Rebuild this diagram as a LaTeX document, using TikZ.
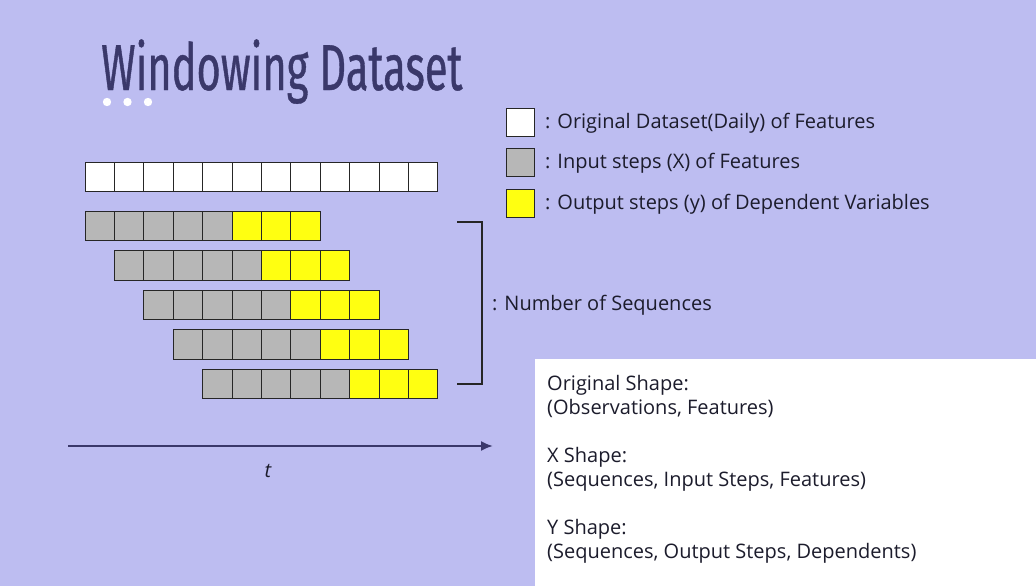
\documentclass[tikz,border=0pt]{standalone}
\usepackage{fontspec}
\usetikzlibrary{arrows.meta}
\setmainfont{Open Sans}
\newfontfamily\titlefont[FakeStretch=0.64, FakeBold=0.6]{Fira Sans}
\definecolor{slidebg}{RGB}{189,189,241}
\definecolor{navy}{RGB}{58,56,106}
\definecolor{cellgray}{RGB}{183,183,183}
\definecolor{cellyellow}{RGB}{255,255,17}
\definecolor{ink}{RGB}{28,28,44}
\tikzset{
  cell/.style={draw=black!85, line width=0.8pt, minimum size=29.4pt, inner sep=0pt, outer sep=0pt},
  keybox/.style={cell, minimum size=28pt},
  desc/.style={anchor=west, inner sep=0pt, text=ink, font=\fontsize{20}{24}\selectfont},
  bracket/.style={draw=black!85, line width=1.2pt},
}

\begin{document}
\begin{tikzpicture}[x=1pt, y=-1pt]
    \useasboundingbox (0,0) rectangle (1036,586);
    \fill[slidebg] (0,0) rectangle (1036,586);

    % title
    \node[anchor=base west, inner sep=0pt, text=navy, font=\titlefont\fontsize{65}{65}\selectfont] (title) at (101,90) {Windowing Dataset};
    \foreach \d in {0,1,2}
        \fill[white] (107+20.5*\d,102) circle (4.2);

    % original dataset
    \foreach \i in {0,...,11}
        \node[cell, fill=white] (o\i) at (99.7+29.4*\i,177) {};

    % windows
    \foreach \r in {1,...,5} {
        \foreach \j in {0,...,7} {
            \ifnum\j<5
                \node[cell, fill=cellgray] (w\r-\j) at (99.7+29.4*\r-29.4+29.4*\j,226+39.5*\r-39.5) {};
            \else
                \node[cell, fill=cellyellow] (w\r-\j) at (99.7+29.4*\r-29.4+29.4*\j,226+39.5*\r-39.5) {};
            \fi
        }
    }

    % bracket
    \coordinate (btop) at (457,222);
    \coordinate (bbot) at (457,384);
    \draw[bracket] (btop) -- ++(25,0) |- (bbot);
    \node[desc] (nseq) at (492,305) {: Number of Sequences};

    % time axis
    \coordinate (tstart) at (68,446);
    \coordinate (tend) at (493,446);
    \draw[navy, line width=2pt, -{Latex[length=12pt,width=10pt]}] (tstart) -- (tend);
    \node[text=ink, font=\fontsize{20}{24}\selectfont\itshape] (tlabel) at (268,471) {t};

    % legend
    \node[keybox, fill=white] (k1) at (520.5,122) {};
    \node[keybox, fill=cellgray] (k2) at (520.5,162.5) {};
    \node[keybox, fill=cellyellow] (k3) at (520.5,203) {};
    \node[desc] (k1t) at (545,123) {: Original Dataset(Daily) of Features};
    \node[desc] (k2t) at (545,163.5) {: Input steps (X) of Features};
    \node[desc] (k3t) at (545,204) {: Output steps (y) of Dependent Variables};

    % shapes
    \node[fill=white, anchor=north west, inner sep=0pt, minimum width=501pt, minimum height=227pt] (shapebox) at (535,359) {};
    \node[desc, anchor=north west, align=left] (shapes) at (547,375) {Original Shape:\\(Observations, Features)\\[24pt]X Shape:\\(Sequences, Input Steps, Features)\\[24pt]Y Shape:\\(Sequences, Output Steps, Dependents)};
\end{tikzpicture}
\end{document}
